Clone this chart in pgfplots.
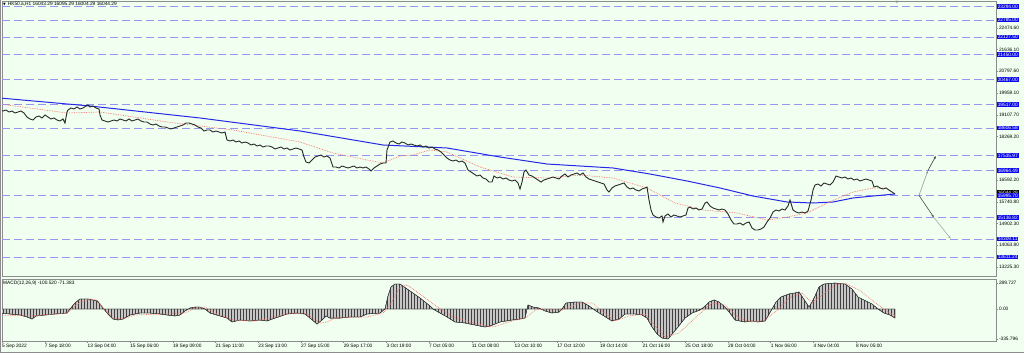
\documentclass[border=0pt]{standalone}
\usepackage{pgfplots}
\pgfplotsset{compat=1.18}
\usepackage{pgfplotstable}
\usepackage{fontspec}
\setmainfont{Liberation Sans}
\newfontfamily\symfont{DejaVu Sans}
\usetikzlibrary{arrows.meta,patterns}
\definecolor{bg}{RGB}{240,255,240}
\definecolor{lvl}{RGB}{150,150,240}
\definecolor{ma1}{RGB}{40,40,235}
\definecolor{ma2}{RGB}{250,110,100}
\definecolor{frame}{RGB}{140,140,140}
\definecolor{lbl}{RGB}{10,10,235}
\newcommand{\tf}{\fontsize{4.8}{5}\selectfont}

\pgfplotstableread{
x p
0 19301
3 19263
6 19301
9 19224
12 19263
15 19185
18 19224
21 19263
24 19185
27 19030
30 18953
33 18914
36 19030
39 19069
42 18992
45 19108
48 19030
51 18953
54 18992
57 18914
60 18876
63 18953
65 18798
67 19224
68 19301
71 19379
74 19340
77 19417
80 19340
83 19379
86 19456
88 19495
90 19417
93 19456
96 19379
99 19340
100 19108
102 18914
105 18876
108 18837
111 18876
114 18914
117 18876
120 18953
123 18914
126 18876
129 18953
132 18876
135 18914
138 18953
141 18876
144 18837
147 18837
150 18759
153 18721
156 18759
159 18682
162 18643
165 18643
168 18605
171 18566
174 18605
177 18643
180 18682
183 18721
186 18798
189 18798
192 18759
195 18721
198 18643
201 18605
204 18489
207 18527
210 18527
213 18450
216 18489
219 18450
222 18411
225 18450
227 18140
230 18102
233 18140
236 18063
239 18102
242 18024
245 18063
248 18024
251 17947
254 17985
257 17908
260 17947
263 17869
266 17908
269 17908
272 17869
275 17792
278 17831
281 17869
284 17792
287 17831
290 17753
293 17792
296 17831
299 17792
302 17753
304 17482
306 17289
309 17250
312 17366
315 17482
318 17521
321 17560
324 17482
327 17521
330 17444
333 17095
336 17095
339 17057
342 17134
345 17095
348 17057
351 17095
354 17134
357 17057
360 17095
363 17057
366 17095
369 17018
371 16941
374 17057
377 17134
380 17211
383 17250
386 17250
387 17753
390 18063
393 18102
396 18024
399 17985
402 18063
405 18024
408 17947
411 17985
414 17947
417 17908
420 17947
423 17869
426 17908
429 17831
432 17869
435 17792
438 17753
441 17676
444 17560
447 17444
450 17366
453 17328
456 17366
459 17289
462 17328
465 17250
468 16979
471 16902
474 16824
477 16747
480 16786
483 16670
486 16631
489 16515
492 16515
494 16747
497 16670
500 16708
503 16631
506 16670
509 16592
512 16554
515 16592
518 16476
520 16244
522 16515
524 16902
526 16979
529 16786
532 16747
535 16670
538 16592
541 16515
544 16592
547 16631
550 16670
553 16708
556 16670
559 16631
562 16747
565 16824
568 16708
571 16786
574 16824
577 16863
580 16786
583 16863
586 16708
589 16631
592 16592
595 16554
598 16515
601 16476
604 16437
607 16205
609 16128
612 16283
615 16360
618 16399
621 16437
624 16476
627 16321
630 16244
633 16283
636 16205
639 16167
642 16244
645 16283
647 16321
649 15818
651 15431
653 15238
656 15160
659 15122
662 15199
663 14967
665 15199
668 15276
671 15160
674 15238
677 15199
680 15160
683 15199
686 15238
688 15509
690 15547
693 15470
696 15509
699 15431
702 15470
705 15702
707 15741
710 15586
713 15509
716 15470
719 15431
722 15470
725 15431
728 15276
731 15044
734 14889
737 14889
740 14928
743 14851
746 14928
749 14967
752 14735
755 14657
758 14657
761 14696
764 14773
767 14967
770 15122
773 15354
776 15431
779 15393
782 15470
785 15431
788 15586
790 15818
793 15431
796 15354
799 15315
802 15354
805 15315
808 15393
811 15818
813 16205
815 16399
818 16437
821 16360
824 16476
827 16437
830 16399
833 16515
836 16747
839 16708
842 16670
845 16708
848 16631
851 16670
854 16592
857 16631
860 16554
863 16592
866 16631
869 16592
872 16554
874 16321
877 16360
880 16283
883 16244
886 16283
889 16205
892 16128
895 16050
}\price

\pgfplotstableread{
x p
0 19765
90 19456
200 18992
300 18489
383 17947
447 17831
500 17482
547 17211
613 17057
650 16824
687 16554
720 16283
753 15973
787 15741
813 15702
833 15741
853 15896
873 15973
895 16050
}\maslow

\pgfplotstableread{
x p
0 19533
67 19185
100 19224
167 18837
233 18527
300 18063
333 17637
367 17366
383 17250
400 17521
413 17560
430 17753
447 17676
480 17095
513 16708
547 16670
580 16786
613 16670
647 16283
675 15702
703 15431
737 15315
767 15044
787 15160
807 15315
827 15702
853 16128
873 16283
887 16283
}\mafast

\pgfplotstableread{
x v
0 -45
10 -56
20 -67
27 -89
32 -112
36 -78
45 -67
55 -56
67 -45
70 0
75 67
80 112
88 112
97 89
100 56
103 11
108 -56
113 -112
118 -123
123 -112
130 -67
140 -45
150 -45
160 -56
167 -67
175 -78
180 -67
185 -22
190 11
195 22
200 22
205 0
210 -45
220 -78
227 -101
232 -145
240 -123
250 -134
260 -123
267 -134
275 -101
287 -56
297 -45
305 -56
310 -101
317 -168
322 -123
326 -78
330 -101
340 -101
350 -89
360 -89
367 -56
380 -45
385 0
388 145
391 246
395 279
400 279
410 201
420 123
430 34
433 0
440 -45
447 -89
455 -145
465 -156
475 -179
485 -201
490 -190
500 -145
512 -123
520 -112
525 -101
528 45
533 22
539 11
545 -22
552 -45
559 -34
562 0
566 67
575 78
582 78
589 34
596 -22
604 -78
612 -134
619 -112
625 -56
635 -56
642 -67
647 -101
652 -201
657 -279
662 -324
668 -335
673 -268
678 -201
685 -101
692 -45
700 -11
704 22
709 78
714 101
719 78
725 22
730 -45
735 -123
745 -145
752 -134
758 -145
765 -134
768 -78
772 0
776 78
781 134
789 168
795 179
799 190
803 123
807 56
809 22
812 78
815 145
819 246
824 279
835 290
845 279
852 223
858 134
866 89
872 56
878 0
884 -45
890 -67
895 -101
}\hist

\pgfplotstableread{
x v
0 -67
30 -78
67 -45
80 78
90 112
97 101
105 -11
113 -101
123 -112
135 -67
160 -56
185 -45
195 11
205 22
215 -45
233 -123
255 -134
270 -101
290 -45
307 -56
320 -156
327 -145
335 -101
367 -89
383 -45
390 45
400 246
407 268
420 168
433 56
453 -89
473 -156
493 -201
512 -134
525 -101
537 0
552 -11
562 -11
579 67
592 67
605 -45
615 -134
629 -78
645 -56
655 -190
665 -313
679 -268
695 -101
712 67
725 45
739 -101
752 -145
765 -123
779 0
789 123
802 179
812 67
822 156
835 268
845 290
859 212
872 101
885 -11
895 -78
}\signal

\pgfplotsset{
  mtstyle/.style={
    scale only axis, width=994pt, clip mode=individual,
    xmin=2, xmax=996, scaled y ticks=false, scaled x ticks=false,
    axis line style={frame, line width=0.6pt},
    tick style={frame, line width=0.4pt},
    major tick length=2pt, tick align=outside,
    ytick pos=right, yticklabel pos=right,
    tick label style={font=\tf, text=black},
    yticklabel style={anchor=west, inner sep=0.8pt},
  },
}
\tikzset{
  lblbox/.style={fill=lbl, text=white, inner xsep=1pt, inner ysep=0.7pt, anchor=west, font=\tf, xshift=0.6pt},
}

\begin{document}
\begin{tikzpicture}
\useasboundingbox (0pt,0pt) rectangle (1024pt,-353pt);
\fill[bg] (0pt,0pt) rectangle (1024pt,-353pt);

\begin{axis}[mtstyle, at={(2pt,-1pt)}, anchor=north west, height=275pt,
  ymin=12877.0, ymax=23519.5, xtick=\empty,
  ytick={13225.3,14063.8,14902.3,15740.8,16592.2,18269.2,19107.7,19959.1,20797.6,21636.1,22474.6},
  yticklabels={13225.30,14063.80,14902.30,15740.80,16592.20,18269.20,19107.70,19959.10,20797.60,21636.10,22474.60},
]
\pgfplotsinvokeforeach{23294,22785,22127.5,21450,20467,19517,18606.58,17535.97,16964.49,15995.70,15136.82,14309.11,13611.24}{
  \addplot[lvl, line width=0.8pt, dash pattern=on 8pt off 4pt, forget plot] coordinates {(2,#1) (996,#1)};
}
\addplot[ma1, line width=1pt] table[x=x,y=p]{\maslow};
\addplot[ma2, line width=0.7pt, densely dotted] table[x=x,y=p]{\mafast};
\addplot[black!85, line width=0.9pt] table[x=x,y=p]{\price};
\addplot[gray!80, line width=0.6pt, -{Latex[length=3pt,width=2.2pt]}] coordinates {(919,15995.7) (928,16964.49)};
\addplot[gray!50!black, line width=0.6pt, -{Latex[length=3pt,width=2.2pt]}] coordinates {(928,16964.49) (936,17535.97)};
\addplot[gray!60!black, line width=0.6pt, -{Latex[length=3pt,width=2.2pt]}] coordinates {(919,15995.7) (934,15136.82)};
\addplot[gray!70, line width=0.6pt, -{Latex[length=3pt,width=2.2pt]}] coordinates {(934,15136.82) (951,14309.11)};
\node[lblbox] at (axis cs:996,23294) {23294.00};
\node[lblbox] at (axis cs:996,22785) {22785.00};
\node[lblbox] at (axis cs:996,22127.5) {22127.50};
\node[lblbox] at (axis cs:996,21450) {21450.00};
\node[lblbox] at (axis cs:996,20467) {20467.00};
\node[lblbox] at (axis cs:996,19517) {19517.00};
\node[lblbox] at (axis cs:996,18606.58) {18606.58};
\node[lblbox] at (axis cs:996,17535.97) {17535.97};
\node[lblbox] at (axis cs:996,16964.49) {16964.49};
\node[lblbox, fill=black] at (axis cs:996,16110) {16044.29};
\node[lblbox] at (axis cs:996,15995.70) {15995.70};
\node[lblbox] at (axis cs:996,15136.82) {15136.82};
\node[lblbox] at (axis cs:996,14309.11) {14309.11};
\node[lblbox] at (axis cs:996,13611.24) {13611.24};
\end{axis}

\begin{axis}[mtstyle, at={(2pt,-279pt)}, anchor=north west, height=62pt,
  ymin=-357.4, ymax=335.1,
  ytick={289.727,0,-335.796}, yticklabels={289.727,0.00,-335.796},
  xtick pos=bottom,
  xtick={2,44.7,87.4,130.1,172.8,215.5,258.2,300.9,343.6,386.3,429,471.7,514.4,557.1,599.8,642.5,685.2,727.9,770.6,813.3,856},
  xticklabels={5 Sep 2022,7 Sep 18:00,13 Sep 04:00,15 Sep 06:00,19 Sep 09:00,21 Sep 11:00,23 Sep 13:00,27 Sep 15:00,29 Sep 17:00,3 Oct 19:00,7 Oct 05:00,11 Oct 08:00,13 Oct 10:00,17 Oct 12:00,19 Oct 14:00,21 Oct 16:00,25 Oct 18:00,28 Oct 04:00,1 Nov 06:00,4 Nov 04:00,8 Nov 05:00},
  xticklabel style={anchor=north west, inner sep=1pt, xshift=-1pt},
]
\addplot[fill=gray!45, draw=gray!40!black, line width=0.4pt,
  postaction={pattern=vertical lines, pattern color=gray!50!black}] table[x=x,y=v]{\hist} \closedcycle;
\addplot[ma2, line width=0.7pt, densely dotted] table[x=x,y=v]{\signal};
\end{axis}

\draw[frame, line width=1.2pt] (0.6pt,0pt) -- (0.6pt,-353pt);
\draw[frame, line width=1pt] (0pt,-352pt) -- (1024pt,-352pt);
\node[anchor=west, font=\tf, inner sep=0pt] at (3pt,-4.5pt) {{\symfont\fontsize{3.5}{4}\selectfont ▼}\kern2pt HK50.a,H1 16043.29 16095.29 16004.29 16044.29};
\node[anchor=west, font=\tf, inner sep=0pt] at (3pt,-283.5pt) {MACD(12,26,9) -100.520 -71.383};
\node[anchor=north, font=\symfont\fontsize{3.5}{4}\selectfont, text=frame, inner sep=0pt] at (897pt,-1.5pt) {▼};
\end{tikzpicture}
\end{document}
